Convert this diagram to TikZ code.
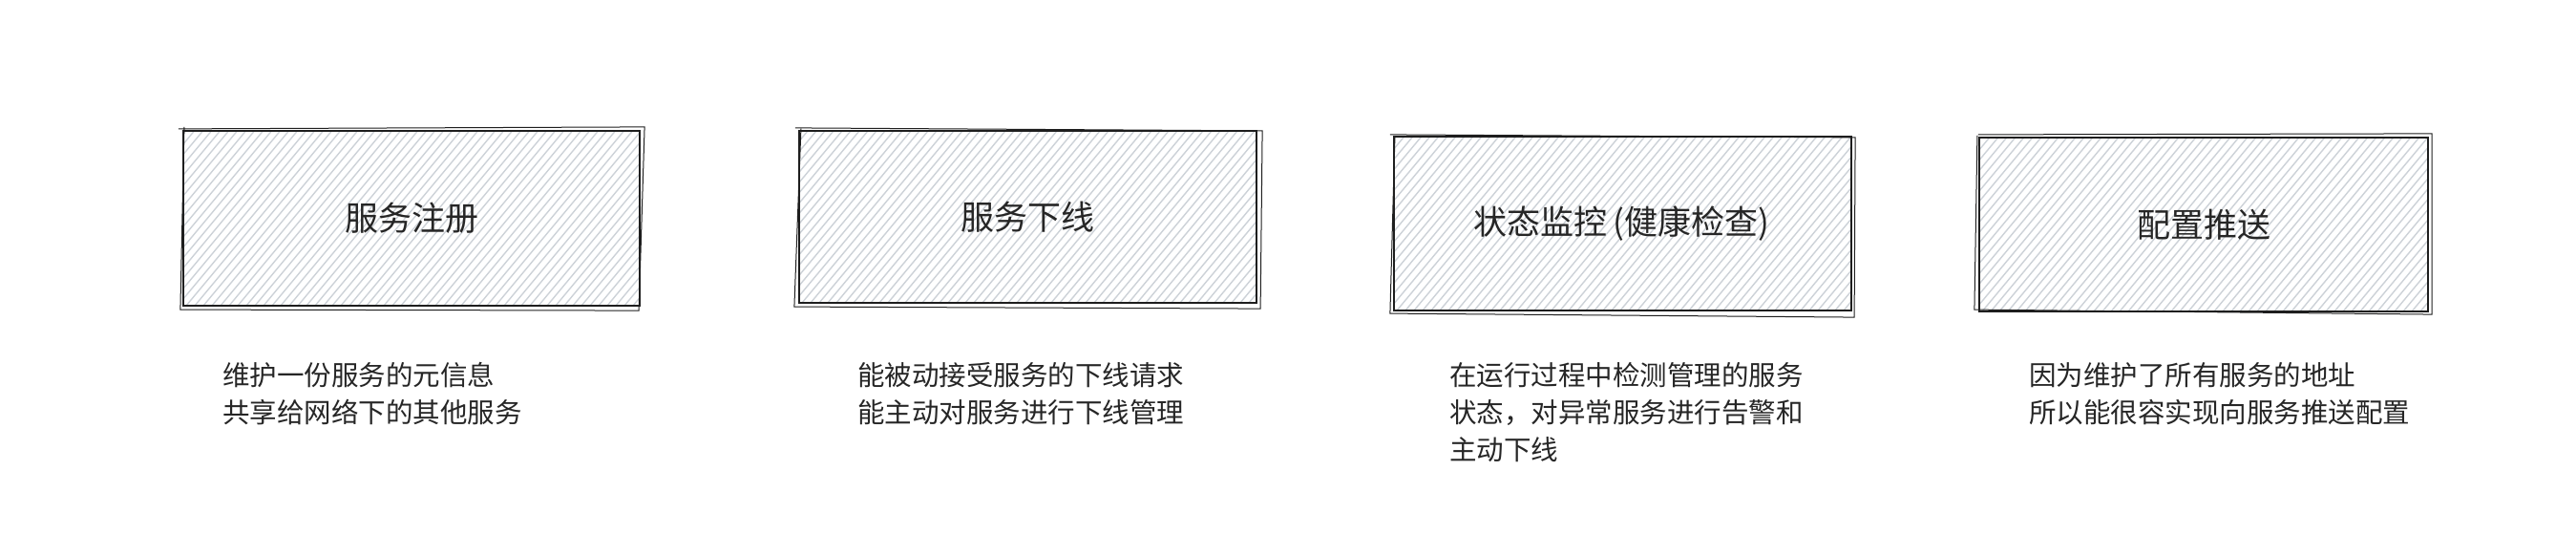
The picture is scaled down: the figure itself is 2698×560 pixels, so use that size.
\documentclass[tikz,border=0pt]{standalone}
\usepackage{fontspec}
\setmainfont{Noto Sans CJK SC}
\usetikzlibrary{calc}
\definecolor{ink}{HTML}{1E1E1E}
\definecolor{txt}{HTML}{262626}
\definecolor{hatchc}{HTML}{CDD2D8}
\tikzset{
  hatch/.style={draw=hatchc, line width=0.7pt},
  sketchbox/.style={rectangle, draw=ink, line width=1.1pt, inner sep=0pt,
    font=\fontsize{17.5}{21}\selectfont, text=txt,
    path picture={
      \foreach \i in {-200,-191,...,520} {
        \draw[hatch] ($(path picture bounding box.south west)+(\i,6)$) -- ++(165,-198);
      }
    }},
  rough/.style={draw=ink, line width=0.5pt},
  desc/.style={anchor=west, align=left, inner sep=0pt, text=txt,
    font=\fontsize{14.25}{19.5}\selectfont}
}
\begin{document}
\begin{tikzpicture}[x=0.5pt,y=-0.5pt]
\useasboundingbox[fill=white] (0,0) rectangle (2698,560);
\node[sketchbox, minimum width=239pt, minimum height=91.5pt] (b1) at (431,228.5) {服务注册};
\node[sketchbox, minimum width=239.5pt, minimum height=90pt] (b2) at (1076.5,227) {服务下线};
\node[sketchbox, minimum width=239.5pt, minimum height=91pt] (b3) at (1699.5,234) {状态监控\kern3pt(健康检查)\kern1pt};
\node[sketchbox, minimum width=235pt, minimum height=91pt] (b4) at (2308,235) {配置推送};
% second rough strokes
\draw[rough] ([shift={(-4,-1)}]b1.north west) -- ([shift={(4,-3)}]b1.north east)
  -- ([shift={(-2,4)}]b1.south east) -- ([shift={(-2,3)}]b1.south west) -- ([shift={(2,-3)}]b1.north west);
\draw[rough] ([shift={(-3,-2)}]b2.north west) -- ([shift={(5,1)}]b2.north east)
  -- ([shift={(3,5)}]b2.south east) -- ([shift={(-4,3)}]b2.south west) -- ([shift={(3,-1)}]b2.north west);
\draw[rough] ([shift={(-3,-1)}]b3.north west) -- ([shift={(3,2)}]b3.north east)
  -- ([shift={(2,6)}]b3.south east) -- ([shift={(-3,2)}]b3.south west) -- ([shift={(2,2)}]b3.north west);
\draw[rough] ([shift={(0,-2)}]b4.north west) -- ([shift={(3,-3)}]b4.north east)
  -- ([shift={(3,2)}]b4.south east) -- ([shift={(-4,-3)}]b4.south west) -- ([shift={(-1,-1)}]b4.north west);
\node[desc] (d1) at (233,412.5) {维护一份服务的元信息\\共享给网络下的其他服务};
\node[desc] (d2) at (898,412.5) {能被动接受服务的下线请求\\能主动对服务进行下线管理};
\node[desc] (d3) at (1518,432) {在运行过程中检测管理的服务\\状态，对异常服务进行告警和\\主动下线};
\node[desc] (d4) at (2125,412.5) {因为维护了所有服务的地址\\所以能很容实现向服务推送配置};
\end{tikzpicture}
\end{document}
